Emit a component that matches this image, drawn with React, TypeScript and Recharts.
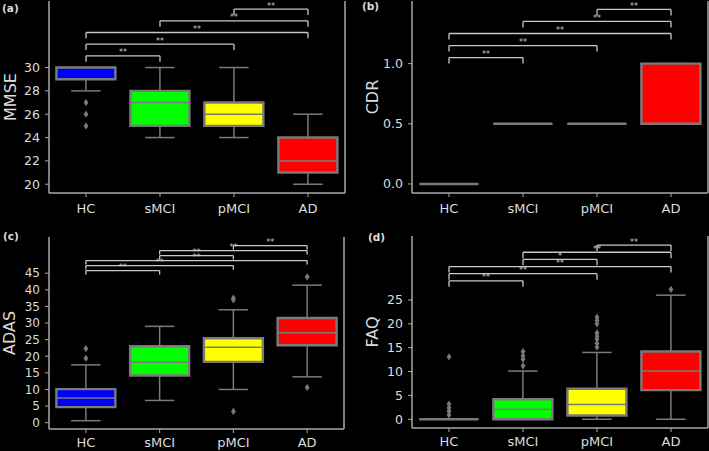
import React from 'react';
import { ComposedChart, Bar, Scatter, XAxis, YAxis, ReferenceLine } from 'recharts';

const categories = ['HC', 'sMCI', 'pMCI', 'AD'];
const boxColors = ['#0000ff', '#00ff00', '#ffff00', '#ff0000'];

// (a) MMSE
const mmseLow = [28, 24, 24, 20];
const mmseQ1 = [29, 25, 25, 21];
const mmseMedian = [30, 27, 26, 22];
const mmseQ3 = [30, 28, 27, 24];
const mmseHigh = [30, 30, 30, 26];
const mmseOutliers = [[27, 26, 25], [], [], []];
const mmseTicks = [20, 22, 24, 26, 28, 30];
const mmseBrackets = [
  { from: 'HC', to: 'sMCI', level: 31, label: '**' },
  { from: 'HC', to: 'pMCI', level: 32, label: '**' },
  { from: 'HC', to: 'AD', level: 33, label: '**' },
  { from: 'sMCI', to: 'AD', level: 34, label: '**' },
  { from: 'pMCI', to: 'AD', level: 35, label: '**' },
];

// (b) CDR
const cdrLow = [0, 0.5, 0.5, 0.5];
const cdrQ1 = [0, 0.5, 0.5, 0.5];
const cdrMedian = [0, 0.5, 0.5, 0.5];
const cdrQ3 = [0, 0.5, 0.5, 1.0];
const cdrHigh = [0, 0.5, 0.5, 1.0];
const cdrOutliers = [[], [], [], []];
const cdrTicks = [0, 0.5, 1.0];
const cdrBrackets = [
  { from: 'HC', to: 'sMCI', level: 1.05, label: '**' },
  { from: 'HC', to: 'pMCI', level: 1.15, label: '**' },
  { from: 'HC', to: 'AD', level: 1.25, label: '**' },
  { from: 'sMCI', to: 'AD', level: 1.35, label: '**' },
  { from: 'pMCI', to: 'AD', level: 1.45, label: '**' },
];

// (c) ADAS
const adasLow = [0.6, 6.7, 10.0, 13.8];
const adasQ1 = [4.7, 14.2, 18.3, 23.3];
const adasMedian = [7.4, 18.2, 22.7, 27.1];
const adasQ3 = [10.1, 23.0, 25.4, 31.5];
const adasHigh = [17.4, 29.0, 34.0, 41.4];
const adasOutliers = [[22.3, 19.4], [], [37.5, 37.0, 3.4], [43.9, 10.6]];
const adasTicks = [0, 5, 10, 15, 20, 25, 30, 35, 40, 45];
const adasBrackets = [
  { from: 'HC', to: 'sMCI', level: 45.8, label: '**' },
  { from: 'HC', to: 'pMCI', level: 47.3, label: '**' },
  { from: 'HC', to: 'AD', level: 48.8, label: '**' },
  { from: 'sMCI', to: 'pMCI', level: 50.3, label: '**' },
  { from: 'sMCI', to: 'AD', level: 51.8, label: '**' },
  { from: 'pMCI', to: 'AD', level: 53.3, label: '**' },
];

// (d) FAQ
const faqLow = [0, 0, 0, 0];
const faqQ1 = [0, 0, 0.8, 6.1];
const faqMedian = [0, 2.1, 3.1, 10.1];
const faqQ3 = [0, 4.2, 6.4, 14.2];
const faqHigh = [0, 10.1, 14.0, 26.0];
const faqOutliers = [[13.1, 3.2, 2.4, 1.7, 0.9], [14.2, 13.3, 12.6, 11.2], [21.4, 20.7, 20.0, 18.1, 17.4, 16.8, 15.9, 15.1], [27.2]];
const faqTicks = [0, 5, 10, 15, 20, 25];
const faqBrackets = [
  { from: 'HC', to: 'sMCI', level: 29, label: '**' },
  { from: 'HC', to: 'pMCI', level: 30.5, label: '**' },
  { from: 'HC', to: 'AD', level: 32, label: '**' },
  { from: 'sMCI', to: 'pMCI', level: 33.5, label: '*' },
  { from: 'sMCI', to: 'AD', level: 35, label: '**' },
  { from: 'pMCI', to: 'AD', level: 36.5, label: '**' },
];

const FONT = 'DejaVu Sans';
const TEXT = '#dcdcdc';
const FRAME = '#a8a8a8';
const EDGE = '#7a7a7a';
const BRACKET = '#c8c8c8';

const BoxShape = (props: any) => {
  const { x, y, width, height, payload } = props;
  if (x == null || y == null) return null;
  const [lo, hi] = payload.whisker;
  const top = Math.min(y, y + height);
  const bottom = Math.max(y, y + height);
  const toY = (v: number) => (hi === lo ? top : top + ((hi - v) / (hi - lo)) * (bottom - top));
  const cx = x + width / 2;
  const yq1 = toY(payload.q1);
  const yq3 = toY(payload.q3);
  const ymed = toY(payload.median);
  const ylo = toY(lo);
  const yhi = toY(hi);
  const cap = width / 4;
  return (
    <g>
      <line x1={cx} x2={cx} y1={yhi} y2={yq3} stroke={EDGE} strokeWidth={1.5} />
      <line x1={cx} x2={cx} y1={yq1} y2={ylo} stroke={EDGE} strokeWidth={1.5} />
      <line x1={cx - cap} x2={cx + cap} y1={yhi} y2={yhi} stroke={EDGE} strokeWidth={1.5} />
      <line x1={cx - cap} x2={cx + cap} y1={ylo} y2={ylo} stroke={EDGE} strokeWidth={1.5} />
      <path
        d={`M${x},${yq3}H${x + width}V${yq1}H${x}Z`}
        fill={payload.color}
        stroke={EDGE}
        strokeWidth={2.4}
      />
      <line x1={x} x2={x + width} y1={ymed} y2={ymed} stroke={EDGE} strokeWidth={1.5} />
    </g>
  );
};

const Diamond = (props: any) => {
  const { cx, cy } = props;
  if (cx == null || cy == null) return null;
  return <path d={`M${cx},${cy - 3.6}L${cx + 2.4},${cy}L${cx},${cy + 3.6}L${cx - 2.4},${cy}Z`} fill={EDGE} />;
};

type PanelProps = {
  low: number[]; q1: number[]; median: number[]; q3: number[]; high: number[];
  outliers: number[][]; ticks: number[]; domain: [number, number];
  brackets: { from: string; to: string; level: number; label: string }[];
  drop: number; tickFmt?: (v: number) => string;
  left: number; top: number; width: number; height: number; marginTop: number;
  xAxisHeight: number; xTickMargin: number; yFont: number;
};

function Panel(p: PanelProps) {
  const rows = categories.map((name, i) => ({
    name,
    whisker: [p.low[i], p.high[i]],
    q1: p.q1[i],
    q3: p.q3[i],
    median: p.median[i],
    color: boxColors[i],
  }));
  const outlierData: { name: string; value: number }[] = [];
  p.outliers.forEach((vals, i) => vals.forEach((v) => outlierData.push({ name: categories[i], value: v })));
  const last = categories[categories.length - 1];
  return (
    <div style={{ position: 'absolute', left: p.left, top: p.top }}>
      <ComposedChart
        width={p.width}
        height={p.height}
        data={rows}
        barCategoryGap="10%"
        margin={{ top: p.marginTop, right: 1, bottom: 0, left: 0 }}
      >
        <XAxis
          dataKey="name"
          type="category"
          allowDuplicatedCategory={false}
          height={p.xAxisHeight}
          tickSize={4}
          tickMargin={p.xTickMargin}
          axisLine={{ stroke: FRAME, strokeWidth: 1.5 }}
          tickLine={{ stroke: FRAME, strokeWidth: 1 }}
          tick={{ fill: TEXT, fontSize: 13, fontFamily: FONT }}
        />
        <XAxis xAxisId="top" dataKey="name" orientation="top" height={0} tick={false} tickLine={false}
          axisLine={{ stroke: FRAME, strokeWidth: 1.5 }} />
        <YAxis
          type="number"
          domain={p.domain}
          ticks={p.ticks}
          interval={0}
          allowDataOverflow
          width={49}
          tickSize={4}
          tickMargin={5}
          tickFormatter={p.tickFmt}
          axisLine={{ stroke: FRAME, strokeWidth: 1.5 }}
          tickLine={{ stroke: FRAME, strokeWidth: 1 }}
          tick={{ fill: TEXT, fontSize: p.yFont, fontFamily: FONT }}
        />
        <ReferenceLine x={last} position="end" stroke={FRAME} strokeWidth={1.5} ifOverflow="visible" />
        <Bar dataKey="whisker" shape={<BoxShape />} isAnimationActive={false} />
        <Scatter data={outlierData} dataKey="value" shape={<Diamond />} isAnimationActive={false} />
        {p.brackets.map((b, i) => (
          <ReferenceLine key={`h${i}`} segment={[{ x: b.from, y: b.level }, { x: b.to, y: b.level }]}
            stroke={BRACKET} strokeWidth={1.3}
            label={{ value: b.label, position: 'top', offset: 0.5, fontSize: 8, fill: BRACKET, fontFamily: FONT }} />
        ))}
        {p.brackets.map((b, i) => (
          <ReferenceLine key={`l${i}`} segment={[{ x: b.from, y: b.level }, { x: b.from, y: b.level - p.drop }]}
            stroke={BRACKET} strokeWidth={1.3} />
        ))}
        {p.brackets.map((b, i) => (
          <ReferenceLine key={`r${i}`} segment={[{ x: b.to, y: b.level }, { x: b.to, y: b.level - p.drop }]}
            stroke={BRACKET} strokeWidth={1.3} />
        ))}
      </ComposedChart>
    </div>
  );
}

const YLabel = ({ text, cx, cy }: { text: string; cx: number; cy: number }) => (
  <div style={{
    position: 'absolute', left: cx - 60, top: cy - 9, width: 120, height: 18, lineHeight: '18px',
    textAlign: 'center', transform: 'rotate(-90deg)', color: TEXT, fontFamily: FONT, fontSize: 16,
  }}>{text}</div>
);

const PanelTag = ({ text, x, y }: { text: string; x: number; y: number }) => (
  <div style={{ position: 'absolute', left: x, top: y, color: TEXT, fontFamily: FONT, fontSize: 10.5, fontWeight: 'bold', lineHeight: '12px' }}>{text}</div>
);

export default function App() {
  return (
    <div style={{ position: 'absolute', left: 0, top: 0, width: 709, height: 451, background: '#000', overflow: 'hidden' }}>
      <Panel low={mmseLow} q1={mmseQ1} median={mmseMedian} q3={mmseQ3} high={mmseHigh}
        outliers={mmseOutliers} ticks={mmseTicks} domain={[19.25, 35.7]} brackets={mmseBrackets} drop={0.5}
        left={0} top={0} width={346} height={225} marginTop={1} xAxisHeight={32} xTickMargin={7} yFont={12.5} />
      <Panel low={cdrLow} q1={cdrQ1} median={cdrMedian} q3={cdrQ3} high={cdrHigh}
        outliers={cdrOutliers} ticks={cdrTicks} domain={[-0.075, 1.52]} brackets={cdrBrackets} drop={0.05}
        tickFmt={(v) => v.toFixed(1)}
        left={363} top={0} width={346} height={225} marginTop={1} xAxisHeight={32} xTickMargin={7} yFont={12.5} />
      <Panel low={adasLow} q1={adasQ1} median={adasMedian} q3={adasQ3} high={adasHigh}
        outliers={adasOutliers} ticks={adasTicks} domain={[-1.9, 55.9]} brackets={adasBrackets} drop={1.2}
        left={0} top={225} width={345} height={226} marginTop={12} xAxisHeight={22} xTickMargin={5} yFont={12} />
      <Panel low={faqLow} q1={faqQ1} median={faqMedian} q3={faqQ3} high={faqHigh}
        outliers={faqOutliers} ticks={faqTicks} domain={[-1.83, 38.4]} brackets={faqBrackets} drop={1.25}
        left={363} top={225} width={346} height={226} marginTop={11} xAxisHeight={23} xTickMargin={5} yFont={12.5} />
      <YLabel text="MMSE" cx={11} cy={97} />
      <YLabel text="CDR" cx={373} cy={97} />
      <YLabel text="ADAS" cx={10} cy={333} />
      <YLabel text="FAQ" cx={373} cy={332} />
      <PanelTag text="(a)" x={2} y={2} />
      <PanelTag text="(b)" x={362} y={0} />
      <PanelTag text="(c)" x={3} y={230} />
      <PanelTag text="(d)" x={368} y={231} />
    </div>
  );
}
